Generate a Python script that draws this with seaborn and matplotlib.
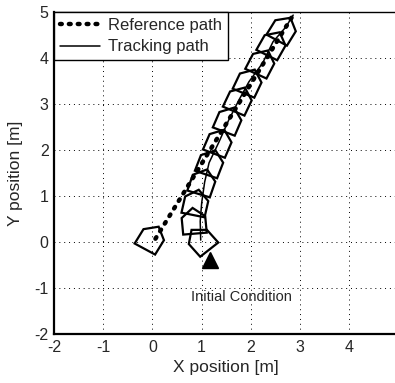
import numpy as np
import pandas as pd
import matplotlib
matplotlib.use("Agg")
import matplotlib.pyplot as plt
import seaborn as sns
from matplotlib.patches import Polygon

# Data
ref_x = [0.06, 2.86]
ref_y = [0.07, 4.93]
trk_x = [0.98, 0.97, 1.0, 1.06, 1.15, 1.35, 1.55, 1.76, 1.96, 2.24, 2.45, 2.71, 2.86]
trk_y = [0.04, 0.45, 0.85, 1.3, 1.72, 2.17, 2.65, 3.09, 3.48, 3.89, 4.35, 4.67, 4.93]
robot_x = [0.98, 0.84, 0.88, 1.02, 1.18, 1.35, 1.55, 1.76, 1.96, 2.22, 2.45, 2.66]
robot_y = [0.04, 0.45, 0.85, 1.3, 1.72, 2.17, 2.65, 3.09, 3.48, 3.9, 4.3, 4.62]
robot_heading = [130, 95, 78, 72, 70, 68, 68, 66, 66, 64, 62, 60]
ref_robot = (-0.02, 0.08, 60)
init_x, init_y = 1.16, -0.4
xticks = [-2, -1, 0, 1, 2, 3, 4]
yticks = [-2, -1, 0, 1, 2, 3, 4, 5]

sns.set_theme(style="white")
plt.rcParams['font.family'] = ['Liberation Sans', 'DejaVu Sans']
plt.rcParams['axes.unicode_minus'] = False

fig = plt.figure(figsize=(3.95, 3.83), dpi=100)
ax = fig.add_axes([0.137, 0.128, 0.868, 0.841])

ref_df = pd.DataFrame({"x": ref_x, "y": ref_y})
trk_df = pd.DataFrame({"x": trk_x, "y": trk_y})

sns.lineplot(data=ref_df, x="x", y="y", ax=ax, color="black", lw=3.2,
             linestyle=(0, (0.4, 1.6)), sort=False, label="Reference path",
             dash_capstyle="round")
sns.lineplot(data=trk_df, x="x", y="y", ax=ax, color="black", lw=1.1,
             sort=False, label="Tracking path")

house = np.array([[-0.27, -0.24], [0.09, -0.24], [0.29, 0.0], [0.09, 0.24], [-0.27, 0.24]])

def draw_house(cx, cy, hdg):
    t = np.deg2rad(hdg)
    R = np.array([[np.cos(t), -np.sin(t)], [np.sin(t), np.cos(t)]])
    pts = house @ R.T + np.array([cx, cy])
    ax.add_patch(Polygon(pts, closed=True, fill=False, edgecolor="black", lw=1.6,
                         joinstyle="miter", zorder=4))

for cx, cy, h in zip(robot_x, robot_y, robot_heading):
    draw_house(cx, cy, h)
draw_house(*ref_robot)

ax.plot([init_x], [init_y], marker="^", color="black", markersize=12, zorder=5)
ax.text(1.8, -1.2, "Initial Condition", ha="center", va="center", fontsize=10.5)

ax.set_xlim(-2, 4.97)
ax.set_ylim(-2, 5)
ax.set_xticks(xticks)
ax.set_yticks(yticks)
ax.set_xlabel("X position [m]", fontsize=12.5, labelpad=4)
ax.set_ylabel("Y position [m]", fontsize=12.5, labelpad=8)
ax.tick_params(labelsize=11.5, length=0, pad=4)
ax.grid(True, color="black", linestyle=(0, (1, 4)), lw=0.7)
for s in ["left", "bottom"]:
    ax.spines[s].set_color("black")
    ax.spines[s].set_linewidth(1.6)
ax.spines["top"].set_color("black")
ax.spines["top"].set_linewidth(1.0)
ax.spines["right"].set_visible(False)

leg = ax.legend(loc="upper left", fontsize=12, frameon=True, fancybox=False,
                edgecolor="black", borderaxespad=0, handlelength=2.4,
                handletextpad=0.5, borderpad=0.35, labelspacing=0.4)
leg.get_frame().set_linewidth(1.0)
leg.get_frame().set_alpha(1)

fig.savefig("out.png", dpi=100)
